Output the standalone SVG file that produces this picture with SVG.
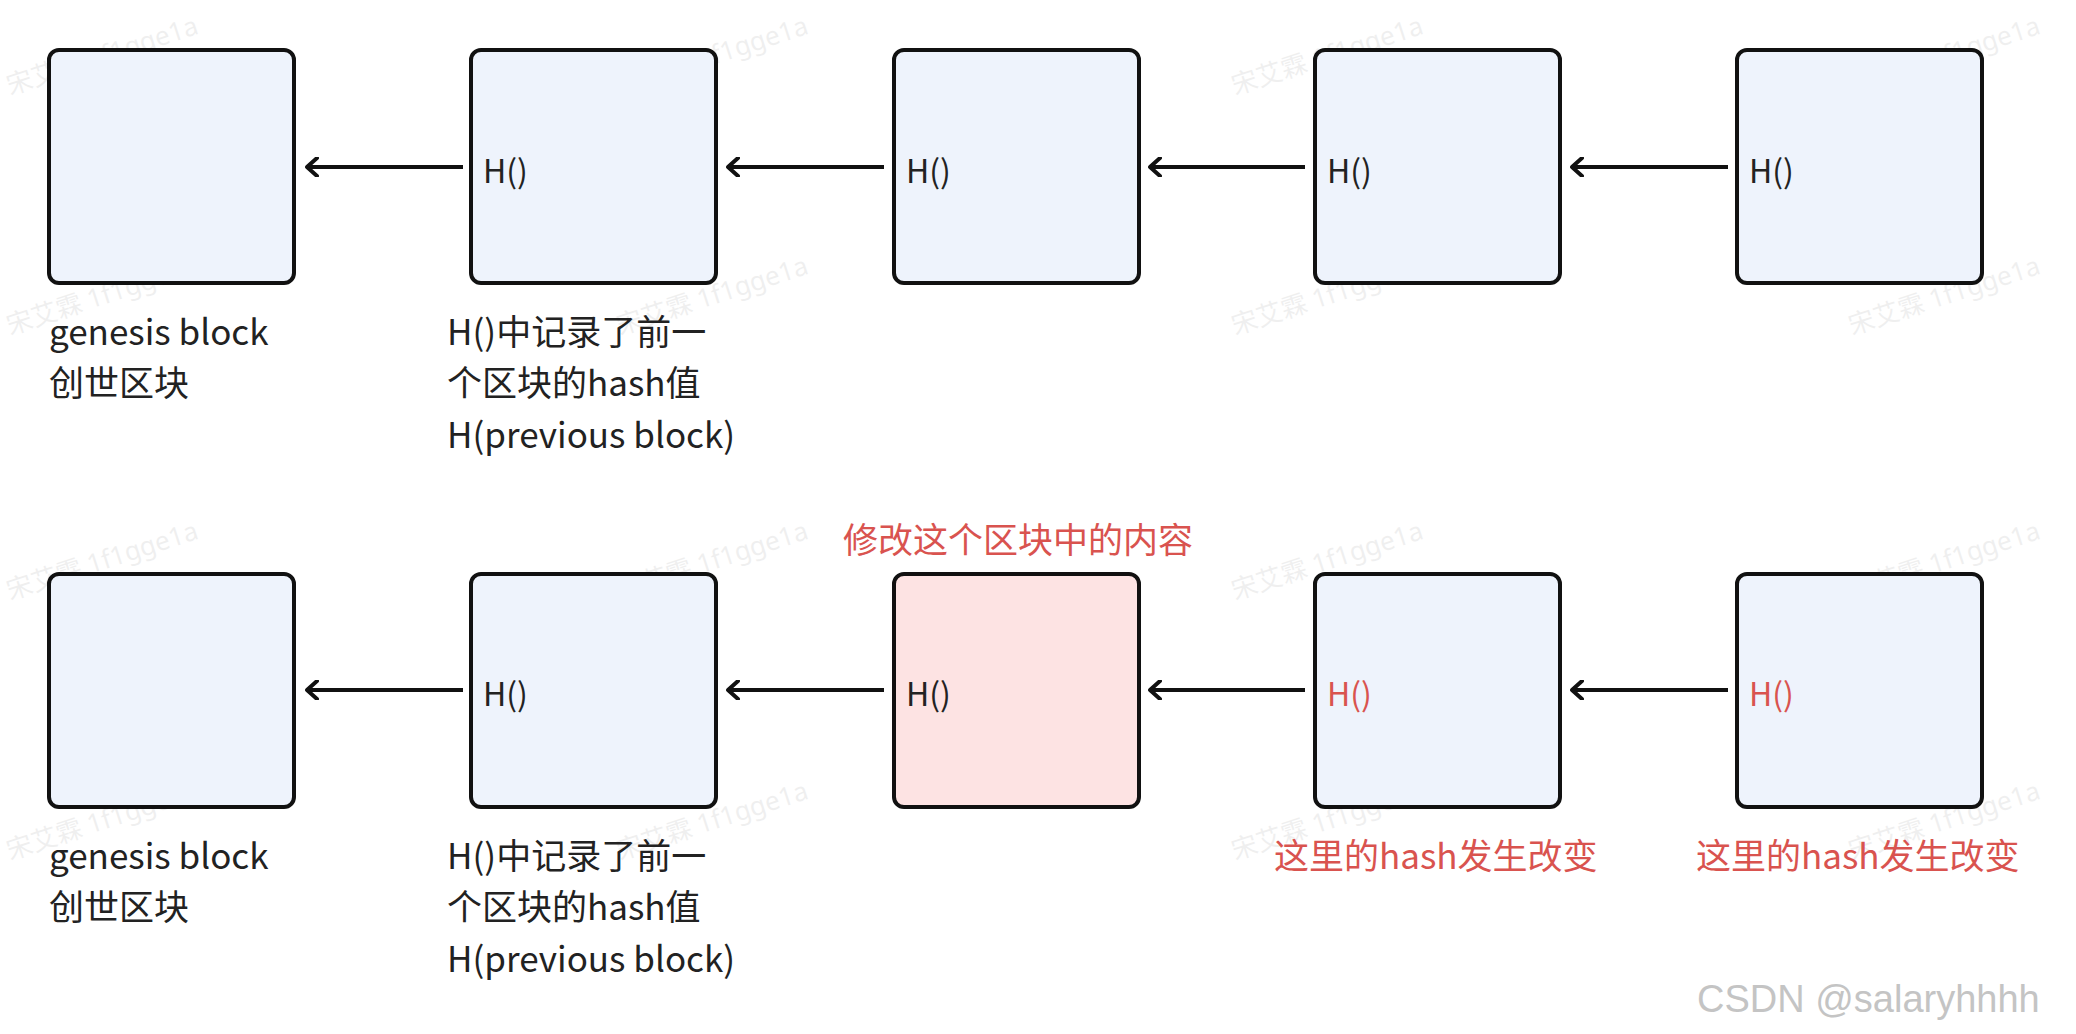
<svg xmlns="http://www.w3.org/2000/svg" width="2076" height="1034" viewBox="0 0 2076 1034">
<style>
.b{fill:#eef3fc;stroke:#111;stroke-width:4}
.p{fill:#fde3e3;stroke:#111;stroke-width:4}
text{font-family:"Noto Sans CJK SC","Noto Sans",sans-serif}
.t{font-size:35px;fill:#222}
.h{font-size:32px;fill:#222}
.r{fill:#d9534f}
.w{font-size:26px;fill:#000;opacity:0.06;font-family:"Noto Sans","Noto Sans CJK SC",sans-serif}
.c{stroke:#111;stroke-width:4;fill:none}
</style>
<defs><marker id="a" markerWidth="14" markerHeight="20" refX="12" refY="10" orient="auto" markerUnits="userSpaceOnUse"><path d="M2,1 L12,10 L2,19" fill="none" stroke="#111" stroke-width="4" stroke-linecap="round" stroke-linejoin="round"/></marker></defs>
<rect width="2076" height="1034" fill="#fff"/>
<g id="watermarks">
<text class="w" transform="translate(10,95) rotate(-18)">宋艾霖 1f1gge1a</text>
<text class="w" transform="translate(620,95) rotate(-18)">宋艾霖 1f1gge1a</text>
<text class="w" transform="translate(1235,95) rotate(-18)">宋艾霖 1f1gge1a</text>
<text class="w" transform="translate(1852,95) rotate(-18)">宋艾霖 1f1gge1a</text>
<text class="w" transform="translate(10,335) rotate(-18)">宋艾霖 1f1gge1a</text>
<text class="w" transform="translate(620,335) rotate(-18)">宋艾霖 1f1gge1a</text>
<text class="w" transform="translate(1235,335) rotate(-18)">宋艾霖 1f1gge1a</text>
<text class="w" transform="translate(1852,335) rotate(-18)">宋艾霖 1f1gge1a</text>
<text class="w" transform="translate(10,600) rotate(-18)">宋艾霖 1f1gge1a</text>
<text class="w" transform="translate(620,600) rotate(-18)">宋艾霖 1f1gge1a</text>
<text class="w" transform="translate(1235,600) rotate(-18)">宋艾霖 1f1gge1a</text>
<text class="w" transform="translate(1852,600) rotate(-18)">宋艾霖 1f1gge1a</text>
<text class="w" transform="translate(10,860) rotate(-18)">宋艾霖 1f1gge1a</text>
<text class="w" transform="translate(620,860) rotate(-18)">宋艾霖 1f1gge1a</text>
<text class="w" transform="translate(1235,860) rotate(-18)">宋艾霖 1f1gge1a</text>
<text class="w" transform="translate(1852,860) rotate(-18)">宋艾霖 1f1gge1a</text>
</g>
<g id="connectors">
<line class="c" x1="463" y1="167" x2="307" y2="167" marker-end="url(#a)"/>
<line class="c" x1="884" y1="167" x2="728" y2="167" marker-end="url(#a)"/>
<line class="c" x1="1305" y1="167" x2="1150" y2="167" marker-end="url(#a)"/>
<line class="c" x1="1728" y1="167" x2="1572" y2="167" marker-end="url(#a)"/>
<line class="c" x1="463" y1="690" x2="307" y2="690" marker-end="url(#a)"/>
<line class="c" x1="884" y1="690" x2="728" y2="690" marker-end="url(#a)"/>
<line class="c" x1="1305" y1="690" x2="1150" y2="690" marker-end="url(#a)"/>
<line class="c" x1="1728" y1="690" x2="1572" y2="690" marker-end="url(#a)"/>
</g>
<g id="n1"><rect class="b" x="49" y="50" width="245" height="233" rx="10"/></g>
<g id="n2"><rect class="b" x="471" y="50" width="245" height="233" rx="10"/><text class="h" x="483" y="183">H()</text></g>
<g id="n3"><rect class="b" x="894" y="50" width="245" height="233" rx="10"/><text class="h" x="906" y="183">H()</text></g>
<g id="n4"><rect class="b" x="1315" y="50" width="245" height="233" rx="10"/><text class="h" x="1327" y="183">H()</text></g>
<g id="n5"><rect class="b" x="1737" y="50" width="245" height="233" rx="10"/><text class="h" x="1749" y="183">H()</text></g>
<g id="l1"><text class="t" x="49" y="345">genesis block</text><text class="t" x="49" y="396">创世区块</text></g>
<g id="l2"><text class="t" x="447" y="345">H()中记录了前一</text><text class="t" x="447" y="396">个区块的hash值</text><text class="t" x="447" y="448">H(previous block)</text></g>
<g id="m1"><rect class="b" x="49" y="574" width="245" height="233" rx="10"/></g>
<g id="m2"><rect class="b" x="471" y="574" width="245" height="233" rx="10"/><text class="h" x="483" y="706">H()</text></g>
<g id="m3"><rect class="p" x="894" y="574" width="245" height="233" rx="10"/><text class="h" x="906" y="706">H()</text></g>
<g id="m4"><rect class="b" x="1315" y="574" width="245" height="233" rx="10"/><text class="h r" x="1327" y="706">H()</text></g>
<g id="m5"><rect class="b" x="1737" y="574" width="245" height="233" rx="10"/><text class="h r" x="1749" y="706">H()</text></g>
<g id="k0"><text class="t r" x="843" y="553">修改这个区块中的内容</text></g>
<g id="k1"><text class="t" x="49" y="869">genesis block</text><text class="t" x="49" y="920">创世区块</text></g>
<g id="k2"><text class="t" x="447" y="869">H()中记录了前一</text><text class="t" x="447" y="920">个区块的hash值</text><text class="t" x="447" y="972">H(previous block)</text></g>
<g id="k4"><text class="t r" x="1274" y="869">这里的hash发生改变</text></g>
<g id="k5"><text class="t r" x="1696" y="869">这里的hash发生改变</text></g>
<text x="1697" y="1012" style="font-family:'Liberation Sans',sans-serif;font-size:38px;fill:#c4c4c4">CSDN @salaryhhhh</text>
</svg>
